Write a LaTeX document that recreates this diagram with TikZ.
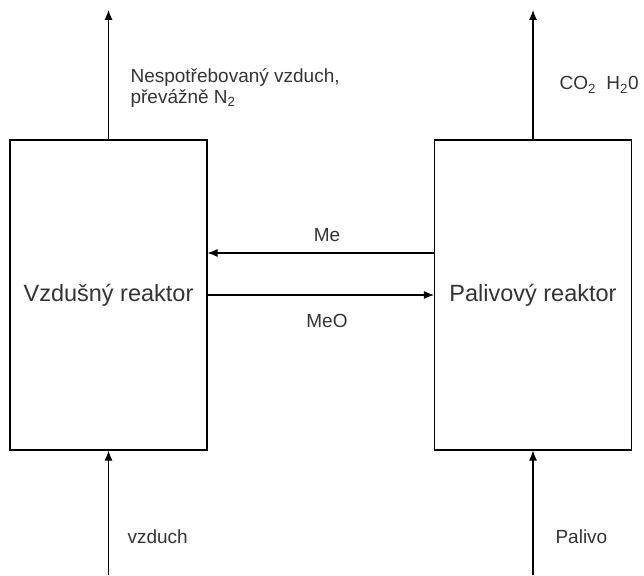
\documentclass[tikz,border=0pt]{standalone}
\usepackage{fontspec}
\setmainfont{Liberation Sans}
\usepackage{tikz}
\usetikzlibrary{arrows.meta}

\definecolor{txtgray}{RGB}{51,51,51}

\begin{document}
\begin{tikzpicture}[x=1pt,y=-1pt,->,>={Latex[length=10pt,width=8pt]},line width=1.1pt,
      reactor/.style={rectangle,draw,minimum width=197pt,minimum height=310pt,
        text=txtgray,font=\fontsize{23.5}{26}\selectfont},
      lbl/.style={text=txtgray,font=\fontsize{19}{21}\selectfont,inner sep=0pt}]

      \useasboundingbox (0,0) rectangle (644,575);

      \node[reactor] (vzd) at (108.5,295) {Vzdušný reaktor};
      \node[reactor] (pal) at (533,295) {Palivový reaktor};

      \coordinate (vzdout) at (108.5,10);
      \coordinate (palout) at (533,10);
      \coordinate (vzdin) at (108.5,575);
      \coordinate (palin) at (533,575);

      \path
      (vzd) edge (vzdout)
      (pal) edge (palout)
      (vzdin) edge (vzd)
      (palin) edge (pal)
      ([yshift=42pt]pal.west) edge ([yshift=42pt]vzd.east)
      (vzd.east) edge (pal.west);

      \node[lbl,anchor=west,align=left] (nespo) at (130,88)
        {Nespotřebovaný vzduch,\\převážně N\textsubscript{2}};
      \node[lbl,anchor=west] (spaliny) at (559,85)
        {CO\textsubscript{2}\hspace{0.55em}H\textsubscript{2}0};
      \node[lbl] (me) at (327,235) {Me};
      \node[lbl] (meo) at (327,321) {MeO};
      \node[lbl,anchor=west] (vzduch) at (127,537) {vzduch};
      \node[lbl,anchor=west] (palivo) at (555,537) {Palivo};
    \end{tikzpicture}
\end{document}
